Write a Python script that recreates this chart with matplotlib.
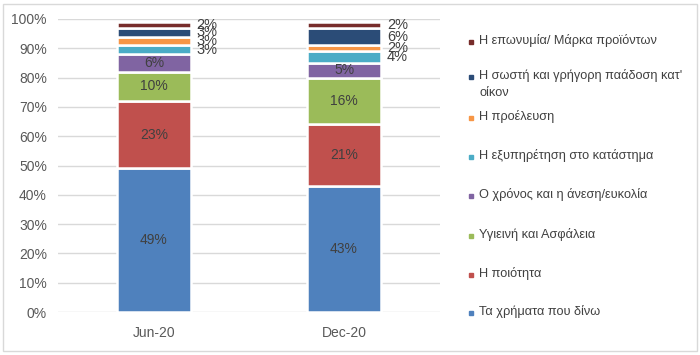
import numpy as np
import matplotlib
matplotlib.use("Agg")
from matplotlib import pyplot as plt
from matplotlib.patches import Rectangle
from matplotlib.lines import Line2D

plt.rcParams['font.family'] = ['Liberation Sans', 'DejaVu Sans']

periods = ["Jun-20", "Dec-20"]

series = [
    "Τα χρήματα που δίνω",
    "Η ποιότητα",
    "Υγιεινή και Ασφάλεια",
    "Ο χρόνος και η άνεση/ευκολία",
    "Η εξυπηρέτηση στο κατάστημα",
    "Η προέλευση",
    "Η σωστή και γρήγορη παάδοση κατ'\nοίκον",
    "Η επωνυμία/ Μάρκα προϊόντων",
]

money = [49, 43]
quality = [23, 21]
hygiene = [10, 16]
time_ease = [6, 5]
service = [3, 4]
origin = [3, 2]
delivery = [3, 6]
brand = [2, 2]

values = [money, quality, hygiene, time_ease, service, origin, delivery, brand]

colors = ["#4F81BD", "#C0504D", "#9BBB59", "#8064A2",
          "#4BACC6", "#F79646", "#2B4C77", "#772C2A"]

W, H = 700, 355
fig = plt.figure(figsize=(7, 3.55), dpi=100)
ax = fig.add_axes([58 / W, 1 - 312 / H, 382 / W, 293 / H])

x = np.arange(len(periods))
width = 0.39
bottom = np.zeros(len(periods))
text_col = "#404040"

for i, (vals, col) in enumerate(zip(values, colors)):
    vals = np.array(vals, dtype=float)
    ax.bar(x, vals, width, bottom=bottom, color=col,
           edgecolor="white", linewidth=1.8, zorder=3)
    for xi, v, b in zip(x, vals, bottom):
        mid = b + v / 2
        if i < 4:
            ax.text(xi, mid, f"{v:.0f}%", ha="center", va="center",
                    fontsize=10, color=text_col, zorder=4)
        else:
            # small top segments are labelled beside the bar
            ax.text(xi + width / 2 + 0.03, mid, f"{v:.0f}%", ha="left",
                    va="center", fontsize=10.5, color=text_col, zorder=4)
    bottom += vals

ax.set_xlim(-0.505, 1.505)
ax.set_ylim(0, 100)
ax.set_yticks(np.arange(0, 101, 10))
ax.set_yticklabels([f"{t}%" for t in range(0, 101, 10)])
ax.set_xticks(x)
ax.set_xticklabels(periods)
ax.tick_params(length=0, labelsize=10, colors="#595959", pad=8)
ax.tick_params(axis="x", pad=10)
ax.grid(axis="y", color="#D9D9D9", linewidth=1, zorder=0)
for sp in ax.spines.values():
    sp.set_visible(False)

# legend, drawn by hand to follow the original spacing
leg_y = [313, 275, 236, 196, 157, 118, 77, 42]
for name, col, yy in zip(series, colors, leg_y):
    fy = 1 - yy / H
    fig.add_artist(Line2D([471 / W], [fy], marker="s", markersize=3.5,
                          color=col, linestyle="none"))
    fig.text(479 / W, fy + 8 / H, name, ha="left", va="top", fontsize=9.2,
             color=text_col, linespacing=1.55)

fig.add_artist(Rectangle((3 / W, 4 / H), 694 / W, 347 / H, fill=False,
                         edgecolor="#D9D9D9", linewidth=1,
                         transform=fig.transFigure))

fig.savefig("out.png", dpi=100)
